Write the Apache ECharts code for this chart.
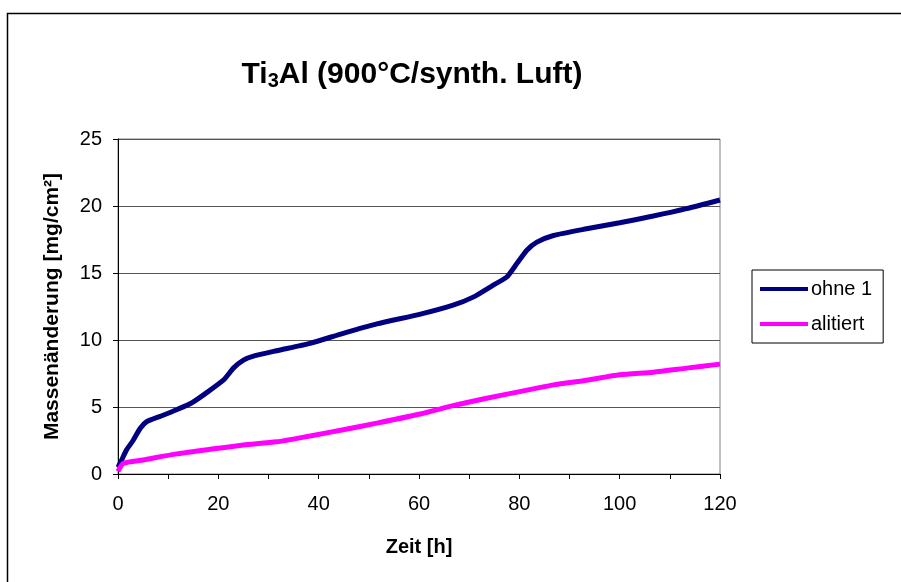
<!DOCTYPE html>
<html><head><meta charset="utf-8">
<script src="https://cdn.jsdelivr.net/npm/echarts@6/dist/echarts.min.js"></script>
<style>html,body{margin:0;padding:0;background:#fff}#c{width:901px;height:582px}</style>
</head><body><div id="c"></div>
<script>
var seriesNames = ['ohne 1', 'alitiert'];
var ohneX = [0, 0.8, 1.7, 3, 4.4, 5.7, 8.4, 11.7, 14.7, 21, 23, 25, 27, 31.6, 38.3, 44.9, 51.6, 60.5, 66.8, 70.8, 74.8, 77.5, 79.5, 81.5, 83.5, 86.8, 93.4, 100, 106.7, 113.3, 120];
var ohneY = [0.5, 1.1, 1.8, 2.5, 3.4, 3.9, 4.3, 4.8, 5.3, 7.0, 7.9, 8.5, 8.8, 9.2, 9.75, 10.5, 11.2, 11.95, 12.6, 13.2, 14.1, 14.7, 15.7, 16.7, 17.3, 17.8, 18.3, 18.75, 19.25, 19.8, 20.45];
var alitX = [0, 1.1, 5, 11.7, 18.3, 25, 31.6, 38.3, 44.9, 51.6, 60.5, 66.8, 73.5, 80.1, 86.8, 93.4, 100, 106.7, 113.3, 120];
var alitY = [0.2, 0.8, 1.05, 1.5, 1.84, 2.16, 2.4, 2.84, 3.3, 3.8, 4.5, 5.1, 5.65, 6.15, 6.65, 7.0, 7.4, 7.6, 7.9, 8.2];
var yTicks = [0, 5, 10, 15, 20, 25];
var xLabels = [0, 20, 40, 60, 80, 100, 120];

function pairs(xs, ys) { return xs.map(function (x, i) { return [x, ys[i]]; }); }
var FONT = 'Liberation Sans, Arial, sans-serif';
var chart = echarts.init(document.getElementById('c'), null, { renderer: 'canvas' });
chart.setOption({
  backgroundColor: '#fff',
  animation: false,
  title: {
    text: '{b|Ti}{s|3}{b|Al (900°C/synth. Luft)}',
    left: 407, top: 54, textAlign: 'center',
    textStyle: {
      rich: {
        b: { fontFamily: FONT, fontWeight: 'bold', fontSize: 30, color: '#000' },
        s: { fontFamily: FONT, fontWeight: 'bold', fontSize: 20, color: '#000', padding: [12, 0, 0, 0] }
      }
    }
  },
  graphic: [{
    type: 'rect', shape: { x: 7.5, y: 13.5, width: 1000, height: 1000 },
    style: { fill: 'none', stroke: '#000', lineWidth: 1.5 }, silent: true, z: -1
  }],
  grid: { left: 118, top: 139, width: 602, height: 335, show: true, borderColor: '#808080', borderWidth: 1, backgroundColor: '#fff' },
  legend: {
    left: 752, top: 270, orient: 'vertical',
    data: seriesNames,
    icon: 'rect', itemWidth: 48, itemHeight: 4, itemGap: 15,
    borderColor: '#000', borderWidth: 1, borderRadius: 0,
    padding: [9, 11, 9, 8],
    textStyle: { fontFamily: FONT, fontSize: 20, color: '#000', padding: [0, 0, 0, -2] }
  },
  xAxis: {
    type: 'value', min: 0, max: 120, interval: 10,
    name: 'Zeit [h]', nameLocation: 'middle', nameGap: 63,
    nameTextStyle: { fontFamily: FONT, fontWeight: 'bold', fontSize: 20, color: '#000' },
    axisLine: { lineStyle: { color: '#000', width: 1 } },
    axisTick: { inside: false, length: 5, lineStyle: { color: '#000' } },
    axisLabel: {
      fontFamily: FONT, fontSize: 20, color: '#000', margin: 20,
      formatter: function (v) { return xLabels.indexOf(v) >= 0 ? String(v) : ''; }
    },
    splitLine: { show: false }
  },
  yAxis: {
    type: 'value', min: 0, max: 25, interval: 5,
    name: 'Massenänderung [mg/cm²]', nameLocation: 'middle', nameGap: 55, nameRotate: 90,
    nameTextStyle: { fontFamily: FONT, fontWeight: 'bold', fontSize: 21, color: '#000' },
    axisLine: { show: true, lineStyle: { color: '#000', width: 1 } },
    axisTick: { show: true, inside: false, length: 5, lineStyle: { color: '#000' } },
    axisLabel: { fontFamily: FONT, fontSize: 20, color: '#000', margin: 16,
      formatter: function (v) { return yTicks.indexOf(v) >= 0 ? String(v) : ''; } },
    splitLine: { show: true, lineStyle: { color: '#555', width: 1 } }
  },
  series: [
    { name: seriesNames[0], type: 'line', data: pairs(ohneX, ohneY), showSymbol: false, symbol: 'none', smooth: 0.2,
      lineStyle: { color: '#000080', width: 5 }, itemStyle: { color: '#000080' } },
    { name: seriesNames[1], type: 'line', data: pairs(alitX, alitY), showSymbol: false, symbol: 'none', smooth: 0.2,
      lineStyle: { color: '#FF00FF', width: 5 }, itemStyle: { color: '#FF00FF' } }
  ]
});
</script></body></html>
